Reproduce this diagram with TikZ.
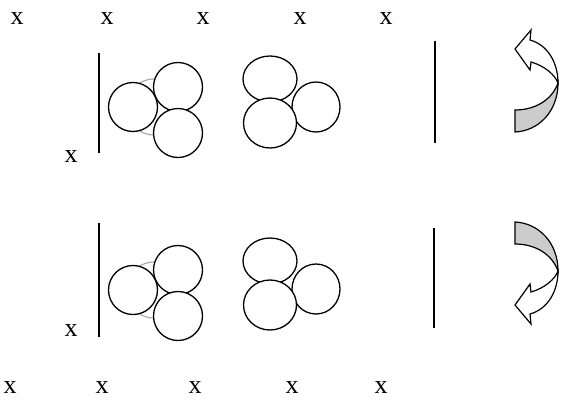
\documentclass[tikz,border=0pt]{standalone}
\usepackage{fontspec}
\setmainfont{Liberation Serif}
\usetikzlibrary{shapes.geometric}

\begin{document}
\begin{tikzpicture}[
    x=1pt, y=-1pt,
    lbl/.style={inner sep=0pt, font=\fontsize{26}{26}\selectfont},
    ball/.style={draw, circle, fill=white, minimum size=49pt, inner sep=0pt, line width=1.3pt},
    back/.style={draw=gray!70, circle, minimum size=56pt, inner sep=0pt, line width=1.1pt},
    egg/.style={draw, ellipse, fill=white, inner sep=0pt, line width=1.3pt},
    wall/.style={line width=1.8pt},
    turn/.style={draw, line width=1.2pt, line join=miter, fill=white},
    twist/.style={draw, line width=1.2pt, fill=gray!40},
]
\useasboundingbox (0,0) rectangle (561,399);
% Labels
\node[lbl] (t1) at (17,19) {x};
\node[lbl] (t2) at (107,19) {x};
\node[lbl] (t3) at (203,19) {x};
\node[lbl] (t4) at (300,19) {x};
\node[lbl] (t5) at (386,19) {x};
\node[lbl] (b1) at (10,388) {x};
\node[lbl] (b2) at (102,388) {x};
\node[lbl] (b3) at (195,388) {x};
\node[lbl] (b4) at (292,388) {x};
\node[lbl] (b5) at (381,388) {x};
\node[lbl] (s1) at (71,157) {x};
\node[lbl] (s2) at (71,331) {x};
% Walls
\coordinate (wa1) at (99,53);  \coordinate (wa2) at (99,153);
\coordinate (wb1) at (435,41); \coordinate (wb2) at (435,143);
\coordinate (wc1) at (99,223); \coordinate (wc2) at (99,337);
\coordinate (wd1) at (434,228); \coordinate (wd2) at (434,328);
\draw[wall] (wa1) -- (wa2);
\draw[wall] (wb1) -- (wb2);
\draw[wall] (wc1) -- (wc2);
\draw[wall] (wd1) -- (wd2);
% Upper row, left group
\node[back] (hidA) at (154,107) {};
\node[ball] (leftA) at (133,107) {};
\node[ball] (upA) at (178,87) {};
\node[ball] (downA) at (178,133) {};
% Upper row, right group
\node[egg, minimum width=48pt, minimum height=50pt] (eastA) at (316,107) {};
\node[egg, minimum width=54pt, minimum height=46pt] (northA) at (270,79) {};
\node[egg, minimum width=53pt, minimum height=50pt] (southA) at (270,123) {};
% Lower row, left group
\node[back] (hidB) at (154,290) {};
\node[ball] (leftB) at (133,290) {};
\node[ball] (upB) at (178,270) {};
\node[ball] (downB) at (178,316) {};
% Lower row, right group
\node[egg, minimum width=48pt, minimum height=50pt] (eastB) at (316,289) {};
\node[egg, minimum width=54pt, minimum height=46pt] (northB) at (270,261) {};
\node[egg, minimum width=53pt, minimum height=50pt] (southB) at (270,305) {};
% Turning arrow, up
\draw[twist] (558,83) .. controls (558,112) and (538,131) .. (515,132)
  -- (515,110) .. controls (535,110) and (552,100) .. (558,83) -- cycle;
\draw[turn] (530,40) .. controls (548,45) and (558,63) .. (558,83)
  .. controls (555,75) and (545,66) .. (531,62) -- (530,70) -- (515,49) -- (531,30) -- cycle;
% Turning arrow, down
\draw[twist] (558,271) .. controls (558,242) and (538,223) .. (515,222)
  -- (515,244) .. controls (535,244) and (552,254) .. (558,271) -- cycle;
\draw[turn] (530,314) .. controls (548,309) and (558,291) .. (558,271)
  .. controls (555,279) and (545,288) .. (531,292) -- (530,284) -- (515,305) -- (531,324) -- cycle;
\end{tikzpicture}
\end{document}
